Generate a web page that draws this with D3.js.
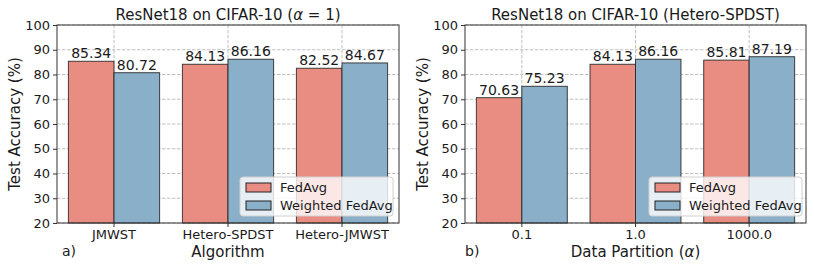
<!DOCTYPE html>
<html lang="en">
<head>
  <meta charset="utf-8">
  <title>ResNet18 on CIFAR-10</title>
  <script src="https://d3js.org/d3.v7.min.js"></script>
  <style>
    body { margin: 0; background: #fff; }
    text { font-family: "DejaVu Sans", sans-serif; fill: #1a1a1a; }
  </style>
</head>
<body>
<script>
// data
var seriesNames = ["FedAvg", "Weighted FedAvg"];
var seriesColors = ["#e98c82", "#8aafc8"];
var yTicks = [20, 30, 40, 50, 60, 70, 80, 90, 100];

var catsA = ["JMWST", "Hetero-SPDST", "Hetero-JMWST"];
var fedAvgA = [85.34, 84.13, 82.52];
var weightedA = [80.72, 86.16, 84.67];

var catsB = ["0.1", "1.0", "1000.0"];
var fedAvgB = [70.63, 84.13, 85.81];
var weightedB = [75.23, 86.16, 87.19];

var svg = d3.select("body").append("svg")
  .attr("width", 814).attr("height", 270);

function panel(opt) {
  var left = opt.left, right = opt.right, top = 25, bottom = 223;
  var g = svg.append("g");

  var x = d3.scaleBand().domain(opt.cats).range([left, right]).padding(0);
  var y = d3.scaleLinear().domain([20, 100]).range([bottom, top]);
  var bw = x.bandwidth() * 0.4;

  // grid
  g.selectAll(".hg").data(yTicks).enter().append("line")
    .attr("x1", left).attr("x2", right)
    .attr("y1", function(d) { return y(d); }).attr("y2", function(d) { return y(d); })
    .attr("stroke", "#b0b0b0").attr("stroke-width", 0.8).attr("stroke-dasharray", "3.5,1.5");
  g.selectAll(".vg").data(opt.cats).enter().append("line")
    .attr("x1", function(d) { return x(d) + x.bandwidth() / 2; })
    .attr("x2", function(d) { return x(d) + x.bandwidth() / 2; })
    .attr("y1", top).attr("y2", bottom)
    .attr("stroke", "#b0b0b0").attr("stroke-width", 0.8).attr("stroke-dasharray", "3.5,1.5");

  // bars
  var series = [opt.a, opt.b];
  series.forEach(function(vals, si) {
    var rows = opt.cats.map(function(c, i) { return {c: c, v: vals[i]}; });
    g.selectAll(".bar" + si).data(rows).enter().append("rect")
      .attr("x", function(d) { return x(d.c) + x.bandwidth() / 2 - bw + si * bw; })
      .attr("y", function(d) { return y(d.v); })
      .attr("width", bw)
      .attr("height", function(d) { return bottom - y(d.v); })
      .attr("fill", seriesColors[si])
      .attr("stroke", "#222").attr("stroke-opacity", 0.85).attr("stroke-width", 1);
    g.selectAll(".lab" + si).data(rows).enter().append("text")
      .attr("x", function(d) { return x(d.c) + x.bandwidth() / 2 - bw / 2 + si * bw; })
      .attr("y", function(d) { return y(d.v) - 3; })
      .attr("text-anchor", "middle").attr("font-size", "14px")
      .text(function(d) { return d.v.toFixed(2); });
  });

  // axes
  var yAxis = d3.axisLeft(y).tickValues(yTicks).tickSize(4).tickPadding(3);
  var ya = g.append("g").attr("transform", "translate(" + left + ",0)").call(yAxis);
  ya.select(".domain").remove();
  ya.selectAll("text").attr("font-size", "13px").attr("font-family", "DejaVu Sans").attr("fill", "#1a1a1a");
  ya.selectAll("line").attr("stroke", "#333");

  var xAxis = d3.axisBottom(x).tickSize(4).tickPadding(3);
  var xa = g.append("g").attr("transform", "translate(0," + bottom + ")").call(xAxis);
  xa.select(".domain").remove();
  xa.selectAll("text").attr("font-size", "13px").attr("font-family", "DejaVu Sans").attr("fill", "#1a1a1a");
  xa.selectAll("line").attr("stroke", "#333");

  // frame
  g.append("rect").attr("x", left).attr("y", top)
    .attr("width", right - left).attr("height", bottom - top)
    .attr("fill", "none").attr("stroke", "#333").attr("stroke-width", 1);

  // legend
  var lg = g.append("g").attr("transform", "translate(" + opt.legX + ",177)");
  lg.append("rect").attr("width", 153).attr("height", 39).attr("rx", 3)
    .attr("fill", "#fff").attr("fill-opacity", 0.8).attr("stroke", "#d0d0d0");
  seriesNames.forEach(function(s, i) {
    lg.append("rect").attr("x", 6).attr("y", 6 + i * 18).attr("width", 25).attr("height", 9)
      .attr("fill", seriesColors[i]).attr("stroke", "#222").attr("stroke-width", 1);
    lg.append("text").attr("x", 40).attr("y", 15 + i * 18)
      .attr("font-size", "13px").text(s);
  });

  // titles
  g.append("text").attr("x", (left + right) / 2).attr("y", 20)
    .attr("text-anchor", "middle").attr("font-size", "15px").html(opt.title);
  g.append("text").attr("x", (left + right) / 2).attr("y", 257)
    .attr("text-anchor", "middle").attr("font-size", "15px").html(opt.xlabel);
  g.append("text").attr("x", opt.tag).attr("y", 256)
    .attr("font-size", "14px").text(opt.tagText);
  g.append("text").attr("transform", "translate(" + (left - 37) + "," + ((top + bottom) / 2) + ") rotate(-90)")
    .attr("text-anchor", "middle").attr("font-size", "15px").text("Test Accuracy (%)");
}

panel({
  left: 57, right: 399, cats: catsA, a: fedAvgA, b: weightedA, legX: 240,
  title: 'ResNet18 on CIFAR-10 (<tspan font-style="italic">α</tspan> = 1)',
  xlabel: "Algorithm", tag: 62, tagText: "a)"
});
panel({
  left: 465, right: 806, cats: catsB, a: fedAvgB, b: weightedB, legX: 649,
  title: "ResNet18 on CIFAR-10 (Hetero-SPDST)",
  xlabel: 'Data Partition (<tspan font-style="italic">α</tspan>)', tag: 465, tagText: "b)"
});
</script>
</body>
</html>
